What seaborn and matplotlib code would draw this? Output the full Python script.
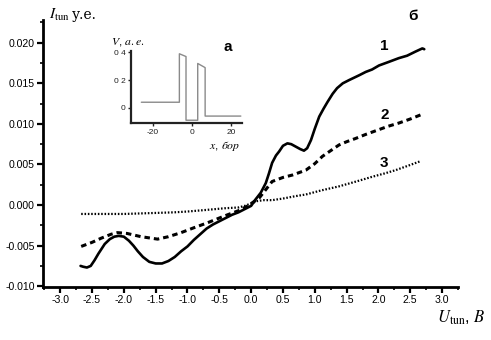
import numpy as np
import pandas as pd
import matplotlib
matplotlib.use("Agg")
import matplotlib.pyplot as plt
from matplotlib.ticker import MultipleLocator, FixedLocator
import seaborn as sns

# Tunnel current vs. bias voltage, three curves
u1 = [-2.68, -2.64, -2.58, -2.52, -2.46, -2.40, -2.30, -2.22, -2.15, -2.08, -2.00, -1.92,
      -1.85, -1.78, -1.70, -1.60, -1.50, -1.40, -1.30, -1.20, -1.10, -1.00, -0.90, -0.80,
      -0.70, -0.60, -0.50, -0.40, -0.30, -0.20, -0.10, 0.00, 0.07, 0.15, 0.23, 0.28,
      0.33, 0.39, 0.44, 0.50, 0.57, 0.63, 0.70, 0.77, 0.83, 0.88, 0.94, 1.00, 1.07, 1.14,
      1.20, 1.28, 1.35, 1.44, 1.54, 1.70, 1.80, 1.90, 2.01, 2.15, 2.32, 2.45, 2.58, 2.69,
      2.72]
i1 = [-0.0075, -0.0076, -0.0077, -0.0075, -0.0068, -0.0060, -0.0048, -0.0042, -0.0039,
      -0.0038, -0.0039, -0.0044, -0.0050, -0.0057, -0.0064, -0.0070, -0.0072, -0.0072,
      -0.0069, -0.0064, -0.0057, -0.0051, -0.0043, -0.0036, -0.0029, -0.0024, -0.0020,
      -0.0016, -0.0012, -0.0009, -0.0005, -0.0001, 0.0007, 0.0015, 0.0027, 0.0039,
      0.0052, 0.0061, 0.0066, 0.0073, 0.0076, 0.0075, 0.0072, 0.0069, 0.0067, 0.0070,
      0.0080, 0.0094, 0.0109, 0.0119, 0.0127, 0.0137, 0.0144, 0.0150, 0.0154, 0.0160,
      0.0164, 0.0167, 0.0172, 0.0176, 0.0181, 0.0184, 0.0189, 0.0193, 0.0192]

u2 = [-2.67, -2.50, -2.36, -2.20, -2.10, -1.95, -1.73, -1.47, -1.30, -1.10, -0.90,
      -0.69, -0.50, -0.37, -0.20, -0.05, 0.13, 0.33, 0.50, 0.65, 0.86, 1.00, 1.12, 1.25,
      1.38, 1.50, 1.64, 1.80, 2.01, 2.15, 2.32, 2.50, 2.66]
i2 = [-0.0051, -0.0046, -0.0041, -0.0036, -0.0034, -0.0035, -0.0039, -0.0042, -0.0039,
      -0.0034, -0.0028, -0.0022, -0.0016, -0.0012, -0.0007, -0.0001, 0.0009, 0.0029,
      0.0034, 0.0037, 0.0043, 0.0051, 0.0060, 0.0067, 0.0074, 0.0078, 0.0082, 0.0087,
      0.0093, 0.0097, 0.0101, 0.0106, 0.0111]

u3 = [-2.67, -2.30, -2.00, -1.60, -1.21, -1.00, -0.70, -0.42, -0.20, -0.10, 0.00, 0.10,
      0.20, 0.33, 0.50, 0.70, 0.86, 1.10, 1.38, 1.65, 1.91, 2.10, 2.27, 2.45, 2.66]
i3 = [-0.0011, -0.0011, -0.0011, -0.0010, -0.0009, -0.0008, -0.0006, -0.0004, -0.0003,
      -0.0001, 0.0002, 0.0005, 0.0006, 0.0006, 0.0008, 0.0011, 0.0013, 0.0018, 0.0023,
      0.0029, 0.0035, 0.0039, 0.0043, 0.0048, 0.0054]

curve_labels = ["1", "2", "3"]

# Inset: potential profile of the double barrier
x_pot = [-26.0, -6.5, -6.5, -3.1, -3.1, 2.9, 2.9, 6.7, 6.7, 25.0]
v_pot = [0.04, 0.04, 0.39, 0.37, -0.09, -0.09, 0.32, 0.29, -0.06, -0.06]

x_ticks = [-3.0, -2.5, -2.0, -1.5, -1.0, -0.5, 0.0, 0.5, 1.0, 1.5, 2.0, 2.5, 3.0]
y_ticks = [-0.010, -0.005, 0.000, 0.005, 0.010, 0.015, 0.020]
inset_xticks = [-20, 0, 20]
inset_yticks = [0.0, 0.2, 0.4]
inset_ylabels = ["0", "0 2", "0 4"]

sns.set_theme(style="ticks")
plt.rcParams["font.family"] = ["Liberation Sans", "DejaVu Sans"]
plt.rcParams["mathtext.fontset"] = "stix"

fig = plt.figure(figsize=(4.91, 3.40), dpi=100)
ax = fig.add_axes([43 / 491, 1 - 287 / 340, (458 - 43) / 491, (287 - 20) / 340])

df = pd.concat([
    pd.DataFrame({"U": u1, "I": i1, "curve": "1"}),
    pd.DataFrame({"U": u2, "I": i2, "curve": "2"}),
    pd.DataFrame({"U": u3, "I": i3, "curve": "3"}),
])
styles = {"1": dict(lw=1.9, ls="-"),
          "2": dict(lw=2.2, ls=(0, (1.8, 1.3))),
          "3": dict(lw=1.6, ls=(0, (0.7, 0.8)))}
for c in curve_labels:
    sns.lineplot(data=df[df["curve"] == c], x="U", y="I", ax=ax, color="black",
                 sort=False, estimator=None, legend=False,
                 linewidth=styles[c]["lw"], linestyle=styles[c]["ls"])

ax.set_xlim(-3.27, 3.25)
ax.set_ylim(-0.0101, 0.0228)
ax.xaxis.set_major_locator(FixedLocator(x_ticks))
ax.yaxis.set_major_locator(FixedLocator(y_ticks))
ax.xaxis.set_minor_locator(MultipleLocator(0.25))
ax.yaxis.set_minor_locator(MultipleLocator(0.0025))
ax.set_xticklabels([f"{v:.1f}" for v in x_ticks])
ax.set_yticklabels([f"{v:.3f}" for v in y_ticks])
ax.set_xlabel("")
ax.set_ylabel("")
for side in ["top", "right"]:
    ax.spines[side].set_visible(False)
for side in ["left", "bottom"]:
    ax.spines[side].set_linewidth(2.0)
    ax.spines[side].set_color("black")
ax.tick_params(which="major", direction="out", length=4, width=1.6, colors="black",
               labelsize=7.6, pad=2)
ax.tick_params(which="minor", direction="out", length=2, width=1.2, colors="black")

# Axis titles and curve numbers
fig.text(49 / 491, 1 - 19 / 340, r"$I_{\rm tun}$", fontsize=11, ha="left",
         va="baseline", color="black")
fig.text(72 / 491, 1 - 19 / 340, "у.е.", fontsize=10, ha="left", va="baseline",
         family=["DejaVu Serif"], color="black")
fig.text(437 / 491, 1 - 323 / 340, r"$U_{\rm tun}$, $B$", fontsize=12, ha="left",
         va="baseline", color="black")
fig.text(413 / 491, 1 - 16 / 340, "б", fontsize=11, fontweight="bold",
         ha="center", va="center", color="black")
for lab, (px, py) in zip(curve_labels, [(384, 46), (385, 115), (384, 163)]):
    fig.text(px / 491, 1 - py / 340, lab, fontsize=11, fontweight="bold",
             ha="center", va="center", color="black")

# Inset axes
ins = fig.add_axes([131 / 491, 1 - 123 / 340, (242 - 131) / 491, (123 - 51) / 340])
pot = pd.DataFrame({"x": x_pot, "V": v_pot})
sns.lineplot(data=pot, x="x", y="V", ax=ins, color="#8a8a8a", sort=False,
             estimator=None, linewidth=1.0)
ins.set_xlim(-31.3, 25.6)
ins.set_ylim(-0.11, 0.41)
ins.xaxis.set_major_locator(FixedLocator(inset_xticks))
ins.yaxis.set_major_locator(FixedLocator(inset_yticks))
ins.set_xticklabels([str(v) for v in inset_xticks])
ins.set_yticklabels(inset_ylabels)
ins.set_xlabel("")
ins.set_ylabel("")
ins.patch.set_alpha(0)
for side in ["top", "right"]:
    ins.spines[side].set_visible(False)
for side in ["left", "bottom"]:
    ins.spines[side].set_linewidth(1.6)
    ins.spines[side].set_color("#222222")
ins.tick_params(direction="out", length=2.5, width=1.0, labelsize=6.0, pad=1.5,
                colors="#222222")
fig.text(111 / 491, 1 - 45 / 340, r"$V$, $a.e.$", fontsize=8.5, ha="left",
         va="baseline", color="black")
fig.text(228 / 491, 1 - 47 / 340, "а", fontsize=11, fontweight="bold",
         ha="center", va="center", color="black")
fig.text(209 / 491, 1 - 149 / 340, r"$x$, $бор$", fontsize=8.5, ha="left",
         va="baseline", color="black")

fig.savefig("out.png", dpi=100)
